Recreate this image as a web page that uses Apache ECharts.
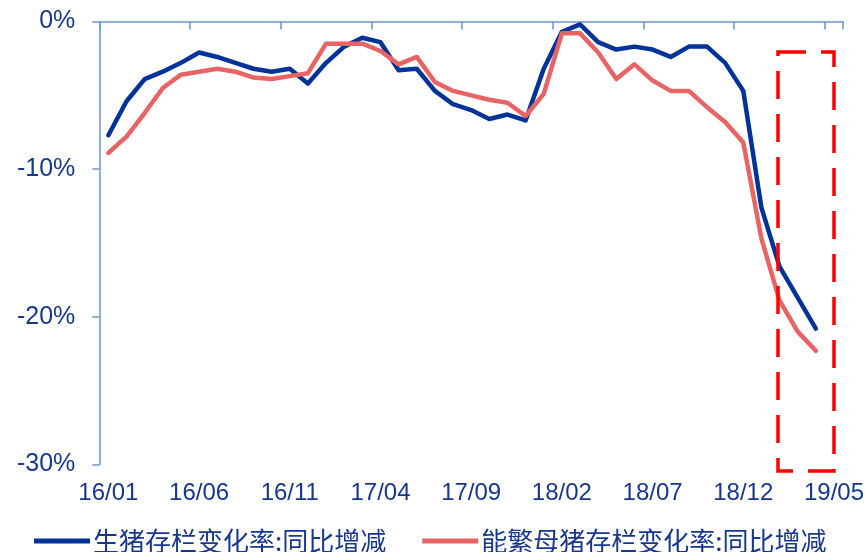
<!DOCTYPE html>
<html>
<head>
<meta charset="utf-8">
<script src="https://cdn.jsdelivr.net/npm/echarts@6/dist/echarts.min.js"></script>
<style>
  html, body { margin: 0; padding: 0; background: #fff; }
  #chart { width: 867px; height: 552px; }
</style>
</head>
<body>
<div id="chart"></div>
<script>
// Monthly categories 16/01 .. 19/05
const months = [
  '16/01','16/02','16/03','16/04','16/05','16/06','16/07','16/08','16/09','16/10','16/11','16/12',
  '17/01','17/02','17/03','17/04','17/05','17/06','17/07','17/08','17/09','17/10','17/11','17/12',
  '18/01','18/02','18/03','18/04','18/05','18/06','18/07','18/08','18/09','18/10','18/11','18/12',
  '19/01','19/02','19/03','19/04','19/05'
];

// 生猪存栏变化率:同比增减 (%)
const hogYoY = [
  -7.7, -5.4, -3.9, -3.4, -2.8, -2.1, -2.4, -2.8, -3.2, -3.4, -3.2, -4.2,
  -2.8, -1.7, -1.1, -1.4, -3.3, -3.2, -4.7, -5.6, -6.0, -6.6, -6.3, -6.7,
  -3.2, -0.7, -0.2, -1.4, -1.9, -1.7, -1.9, -2.4, -1.7, -1.7, -2.8, -4.7,
  -12.6, -16.6, -18.7, -20.8, null
];

// 能繁母猪存栏变化率:同比增减 (%)
const sowYoY = [
  -8.9, -7.8, -6.2, -4.5, -3.6, -3.4, -3.2, -3.4, -3.8, -3.9, -3.7, -3.5,
  -1.5, -1.5, -1.5, -2.0, -2.9, -2.4, -4.1, -4.7, -5.0, -5.3, -5.5, -6.4,
  -4.9, -0.8, -0.8, -2.1, -3.9, -2.9, -4.0, -4.7, -4.7, -5.8, -6.8, -8.2,
  -14.7, -18.9, -21.0, -22.3, null
];

const yTicks = { min: -30, max: 0, interval: 10 };

const seriesNames = ['生猪存栏变化率:同比增减', '能繁母猪存栏变化率:同比增减'];
const seriesColors = ['#003399', '#E86464'];

const axisBlue = '#6B95CF';
const textBlue = '#17378F';
const labelFont = 'Arial, "Liberation Sans", sans-serif';

const chart = echarts.init(document.getElementById('chart'), null, { renderer: 'canvas' });

chart.setOption({
  animation: false,
  backgroundColor: '#ffffff',
  grid: { left: 99.3, right: 23, top: 21.5, bottom: 87.5, containLabel: false },
  legend: {
    left: 29,
    top: 523,
    itemWidth: 56,
    itemHeight: 5,
    itemGap: 36,
    icon: 'rect',
    textStyle: {
      color: textBlue,
      fontSize: 26,
      fontFamily: '"Noto Sans CJK SC", sans-serif',
      padding: [0, 0, 0, -2]
    },
    data: seriesNames
  },
  xAxis: [
    {
      // axis line with tick marks, sitting on the 0% level
      type: 'category',
      position: 'top',
      data: months,
      boundaryGap: true,
      axisLine: { show: true, lineStyle: { color: axisBlue, width: 1.5 } },
      axisTick: { show: true, inside: true, length: 8, interval: 4, lineStyle: { color: axisBlue, width: 1.5 } },
      axisLabel: { show: false },
      splitLine: { show: false }
    },
    {
      // month labels along the bottom
      type: 'category',
      position: 'bottom',
      data: months,
      boundaryGap: true,
      axisLine: { show: false },
      axisTick: { show: false },
      axisLabel: {
        show: true,
        interval: 4,
        margin: 17,
        color: textBlue,
        fontSize: 24,
        fontFamily: labelFont
      },
      splitLine: { show: false }
    }
  ],
  yAxis: {
    type: 'value',
    min: yTicks.min,
    max: yTicks.max,
    interval: yTicks.interval,
    axisLine: { show: true, lineStyle: { color: axisBlue, width: 1.5 } },
    axisTick: { show: true, length: 7, lineStyle: { color: axisBlue, width: 1.5 } },
    axisLabel: {
      margin: 24,
      color: textBlue,
      fontSize: 25,
      fontFamily: labelFont,
      formatter: v => v + '%'
    },
    splitLine: { show: false }
  },
  series: [
    {
      name: seriesNames[0],
      type: 'line',
      xAxisIndex: 0,
      data: hogYoY,
      symbol: 'none',
      color: seriesColors[0],
      lineStyle: { width: 4.5, color: seriesColors[0], join: 'round', cap: 'round' }
    },
    {
      name: seriesNames[1],
      type: 'line',
      xAxisIndex: 0,
      data: sowYoY,
      symbol: 'none',
      color: seriesColors[1],
      lineStyle: { width: 4.5, color: seriesColors[1], join: 'round', cap: 'round' }
    }
  ],
  graphic: [
    {
      // dashed highlight box around the latest months
      type: 'rect',
      z: 100,
      shape: { x: 778, y: 52, width: 56, height: 419 },
      style: {
        fill: 'none',
        stroke: '#FF0000',
        lineWidth: 3.5,
        lineDash: [28, 15]
      }
    }
  ]
});
</script>
</body>
</html>
